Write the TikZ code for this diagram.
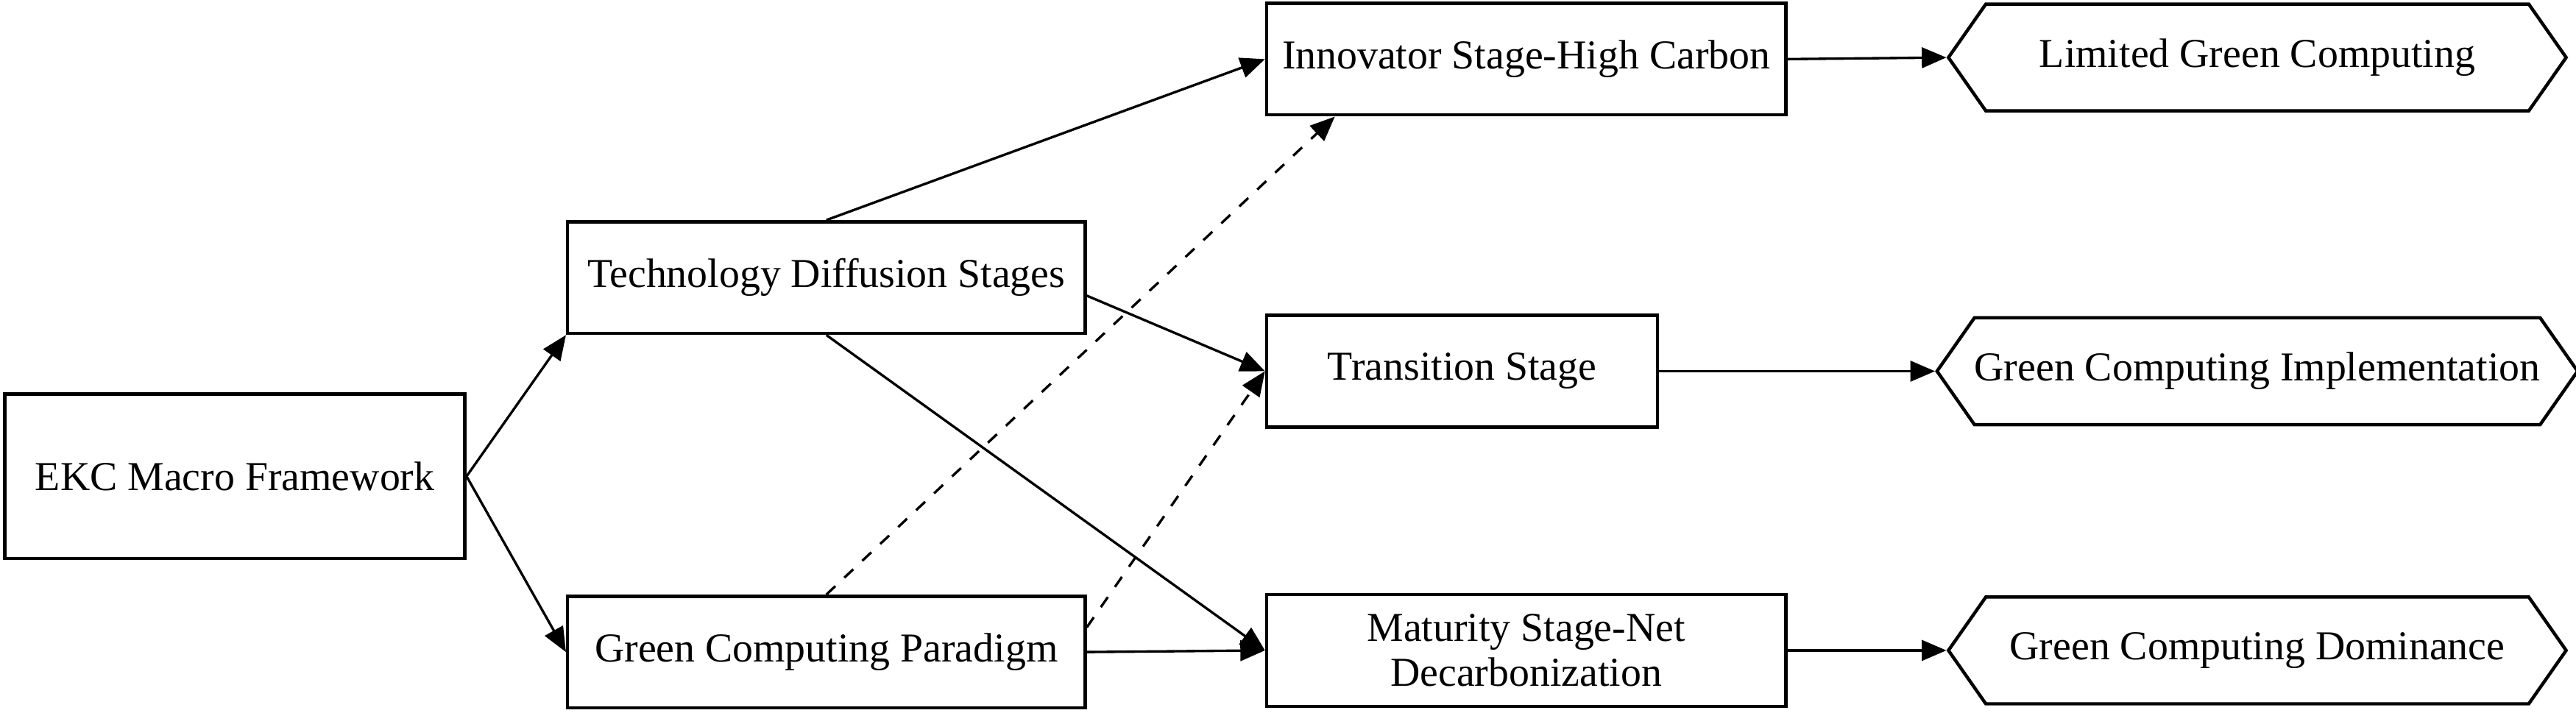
\documentclass[tikz,border=0pt]{standalone}
\usepackage{fontspec}
\setmainfont{Liberation Serif}
\usetikzlibrary{shapes.symbols,arrows.meta}
\tikzset{
	x=0.4pt, y=-0.4pt,
	every node/.style={font=\fontsize{10}{11}\selectfont}, % text size
	box/.style={draw, thick, align=center, minimum height=27.2pt},
	hexa/.style={draw, thick, signal, signal to=east and west, signal pointer angle=110,
		minimum width=150.4pt, minimum height=26pt, inner xsep=0pt},
	link/.style={-{Triangle[length=6pt,width=5pt]}, semithick},
	dlink/.style={link, dashed},
}
\begin{document}
\begin{tikzpicture}
	\useasboundingbox (0,0) rectangle (1568,434);
	\node[box, minimum width=112pt, minimum height=40pt] at (143,290) (ekc) {EKC Macro Framework};
	\node[box, minimum width=126pt] at (503,169) (tech) {Technology Diffusion Stages};
	\node[box, minimum width=126pt] at (503,397) (para) {Green Computing Paradigm};
	\node[box, minimum width=126.4pt] at (929,36) (innov) {Innovator Stage-High Carbon};
	\node[box, minimum width=95.2pt] at (890,226) (trans) {Transition Stage};
	\node[box, minimum width=126.4pt] at (929,396) (mat) {Maturity Stage-Net\\Decarbonization};
	\node[hexa] at (1374,35) (lim) {Limited Green Computing};
	\node[hexa] at (1374,226) (impl) {Green Computing Implementation};
	\node[hexa] at (1374,396) (dom) {Green Computing Dominance};
	
	\draw[link] (ekc.east) -- (tech.south west);
	\draw[link] (ekc.east) -- (para.west);
	\draw[link] (tech.north) -- (innov.west);
	\draw[link] ([yshift=-4.4pt]tech.east) -- (trans.west);
	\draw[link] (tech.south) -- (mat.west);
	\draw[dlink] (para.north) -- ([xshift=17pt]innov.south west);
	\draw[dlink] ([yshift=6pt]para.east) -- (trans.west);
	\draw[link] (para.east) -- (mat.west);
	\draw[link] (innov.east) -- (lim.west);
	\draw[link] (trans.east) -- (impl.west);
	\draw[link] (mat.east) -- (dom.west);
\end{tikzpicture}
\end{document}
